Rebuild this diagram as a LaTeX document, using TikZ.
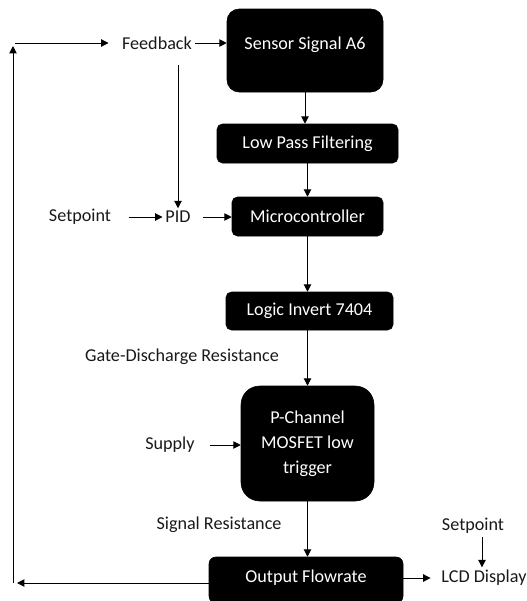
\documentclass[tikz,border=0pt]{standalone}
\usepackage{fontspec}
\setmainfont{Carlito}
\usetikzlibrary{arrows.meta}
\begin{document}
\begin{tikzpicture}[x=0.75pt,y=-0.75pt,
  blk/.style={draw=black,fill=black,text=white,align=center,inner sep=0pt,
    font={\fontsize{13.6}{18.75}\selectfont}},
  wtxt/.style={text=white,font={\fontsize{13.6}{16}\selectfont}},
  lbl/.style={text=black!90,inner sep=2pt,font={\fontsize{13.6}{16}\selectfont}},
  arr/.style={draw=black,line width=0.75pt,-{Triangle[length=5.5pt,width=5.5pt]}},
  ln/.style={draw=black,line width=0.75pt}]
\useasboundingbox (0,0) rectangle (526,601);
\clip (0,0) rectangle (526,601);
% boxes
\node[blk,rounded corners=9pt,minimum width=117pt,minimum height=62.25pt] (sensor) at (305,50.5) {};
\node[wtxt] (sensortxt) at (305,45) {Sensor Signal A6};
\node[blk,rounded corners=4pt,minimum width=135.75pt,minimum height=29.25pt] (lowpass) at (307.5,143.5) {Low Pass Filtering};
\node[blk,rounded corners=4pt,minimum width=113.25pt,minimum height=29.25pt] (micro) at (307.5,216.5) {Microcontroller};
\node[blk,rounded corners=4pt,minimum width=125.25pt,minimum height=28.5pt] (logic) at (309.5,311) {Logic Invert 7404};
\node[blk,rounded corners=14pt,minimum width=99.75pt,minimum height=86.25pt] (mosfet) at (307.5,443.5) {P-Channel\\MOSFET low\\trigger};
\node[blk,rounded corners=5pt,minimum width=145.5pt,minimum height=34.5pt] (output) at (306,580) {};
\node[wtxt] (outputtxt) at (306,578) {Output Flowrate};
% labels
\node[lbl] (feedback) at (157,43) {Feedback};
\node[lbl] (pid) at (178,217) {PID};
\node[lbl] (setpoint) at (80,217) {Setpoint};
\node[lbl] (gate) at (182,357) {Gate-Discharge Resistance};
\node[lbl] (supply) at (170,445) {Supply};
\node[lbl] (sigres) at (219,525) {Signal Resistance};
\node[lbl] (setpoint2) at (473,526) {Setpoint};
\node[lbl] (lcd) at (484,578) {LCD Display};
% coordinates
\coordinate (lb) at (13,583);
\coordinate (lbtip) at (17,583);
\coordinate (lt) at (13,46);
\coordinate (tl) at (15,43);
\coordinate (fbtop) at (178,65);
\coordinate (sptop) at (482,537);
% connectors
\draw[arr] (feedback.east) -- (feedback -| sensor.west);
\draw[arr] (fbtop) -- (pid.north);
\draw[arr,shorten <=11pt] (setpoint.east) -- (pid.west);
\draw[arr,shorten <=7pt] (pid.east) -- (pid -| micro.west);
\draw[arr] (sensor.south) -- (sensor.south |- lowpass.north);
\draw[arr] (lowpass.south) -- (lowpass.south |- micro.north);
\draw[arr] (micro.south) -- (micro.south |- logic.north);
\draw[arr] (mosfet.north |- logic.south) -- (mosfet.north);
\draw[arr,shorten <=9pt] (supply.east) -- (supply -| mosfet.west);
\draw[arr] (mosfet.south) -- (mosfet.south |- output.north);
\draw[arr,shorten >=6pt] (output.east |- lcd) -- (lcd.west);
\draw[arr] (sptop) -- (sptop |- lcd.north);
\draw[arr] (output.west |- lb) -- (lbtip);
\draw[arr] (lb) -- (lt);
\draw[arr,shorten >=8pt] (tl) -- (feedback.west);
\end{tikzpicture}
\end{document}
